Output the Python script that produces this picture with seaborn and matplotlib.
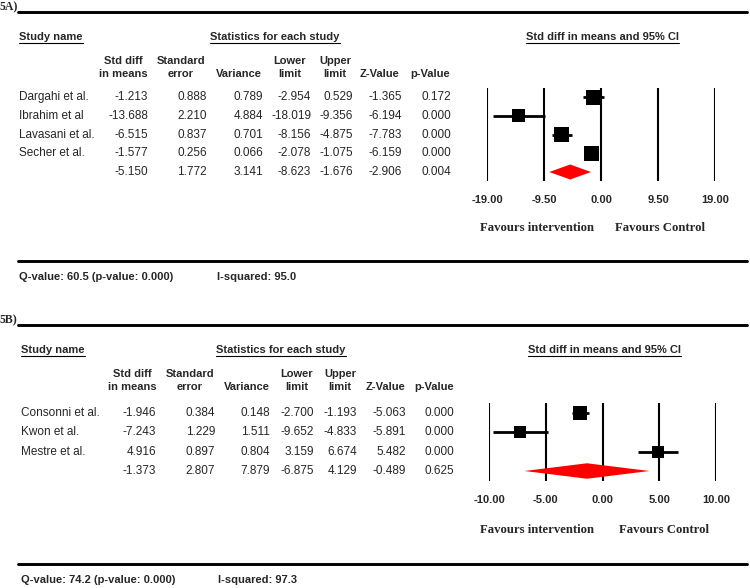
"""
Forest plots 5A / 5B : différence standardisée des moyennes et IC 95%.
"""

import pandas as pd
import matplotlib.pyplot as plt
import seaborn as sns
from matplotlib.lines import Line2D

# ---- données 5A ----
studies_a = ["Dargahi et al.", "Ibrahim et al", "Lavasani et al.", "Secher et al."]
smd_a = [-1.213, -13.688, -6.515, -1.577]
se_a = [0.888, 2.210, 0.837, 0.256]
var_a = [0.789, 4.884, 0.701, 0.066]
lower_a = [-2.954, -18.019, -8.156, -2.078]
upper_a = [0.529, -9.356, -4.875, -1.075]
z_a = [-1.365, -6.194, -7.783, -6.159]
p_a = [0.172, 0.000, 0.000, 0.000]
pooled_a = [-5.150, 1.772, 3.141, -8.623, -1.676, -2.906, 0.004]
ticks_a = [-19.0, -9.5, 0.0, 9.5, 19.0]
q_text_a = "Q-value: 60.5 (p-value: 0.000)"
i2_text_a = "I-squared: 95.0"

# ---- données 5B ----
studies_b = ["Consonni et al.", "Kwon et al.", "Mestre et al."]
smd_b = [-1.946, -7.243, 4.916]
se_b = [0.384, 1.229, 0.897]
var_b = [0.148, 1.511, 0.804]
lower_b = [-2.700, -9.652, 3.159]
upper_b = [-1.193, -4.833, 6.674]
z_b = [-5.063, -5.891, 5.482]
p_b = [0.000, 0.000, 0.000]
pooled_b = [-1.373, 2.807, 7.879, -6.875, 4.129, -0.489, 0.625]
ticks_b = [-10.0, -5.0, 0.0, 5.0, 10.0]
q_text_b = "Q-value: 74.2 (p-value: 0.000)"
i2_text_b = "I-squared: 97.3"

W, H = 750, 588
SANS = "Liberation Sans"
SERIF = "Liberation Serif"

sns.set_theme(style="white")
plt.rcParams["font.family"] = [SANS, "DejaVu Sans"]

fig = plt.figure(figsize=(W / 100, H / 100), dpi=100)
bg = fig.add_axes([0, 0, 1, 1])
bg.set_xlim(0, W)
bg.set_ylim(H, 0)
bg.axis("off")


def hline(y, x0=18, x1=747, lw=2.1):
    bg.add_line(Line2D([x0, x1], [y, y], color="black", lw=lw))


def underlined(x, y, s, ha="left"):
    t = bg.text(x, y, s, ha=ha, va="center", fontsize=8, fontweight="bold")
    fig.canvas.draw()
    bb = t.get_window_extent()
    inv = bg.transData.inverted()
    (xa, ya), (xb, _) = inv.transform([(bb.x0, bb.y0), (bb.x1, bb.y0)])
    bg.add_line(Line2D([xa, xb], [ya + 0.5, ya + 0.5], color="black", lw=0.8))


def panel(label, top, cols, hdr, rows_y, names, cols_vals, pooled,
          fx, fcenter, ticks, box_px, data, fav_x, fav_y, bottom, q_y, q_txt, i2_txt):
    bg.text(0, top - 5, label, ha="left", va="center", fontsize=8.5,
            fontweight="bold", family=SERIF)
    hline(top)
    underlined(cols["name"], top + 25, "Study name")
    underlined(cols["stats"], top + 25, "Statistics for each study", ha="center")
    underlined(fcenter, top + 25, "Std diff in means and 95% CI", ha="center")

    h1, h2 = top + 49, top + 62
    heads = [("Std diff", "in means", hdr[0]), ("Standard", "error", hdr[1]),
             ("", "Variance", hdr[2]), ("Lower", "limit", hdr[3]),
             ("Upper", "limit", hdr[4]), ("", "Z-Value", hdr[5]),
             ("", "p-Value", hdr[6])]
    for a, b, x in heads:
        if a:
            bg.text(x, h1, a, ha="center", va="center", fontsize=8, fontweight="bold")
        bg.text(x, h2, b, ha="center", va="center", fontsize=8, fontweight="bold")

    table = list(zip(*cols_vals)) + [tuple(pooled)]
    for i, y in enumerate(rows_y):
        if i < len(names):
            bg.text(cols["name"], y, names[i], ha="left", va="center", fontsize=8.5)
        for x, v in zip(cols["vals"], table[i]):
            bg.text(x, y, f"{v:.3f}", ha="right", va="center", fontsize=8.5)

    # forest plot
    x0, x1 = fx
    step = (rows_y[-1] - rows_y[0]) / (len(rows_y) - 1)
    y0, y1 = rows_y[0] - step / 2, rows_y[-1] + step / 2
    ax = fig.add_axes([x0 / W, 1 - y1 / H, (x1 - x0) / W, (y1 - y0) / H])
    n = len(data)
    ax.set_xlim(ticks[0], ticks[-1])
    ax.set_ylim(n + 0.5, -0.5)
    for t in ticks:
        ax.axvline(t, color="black", lw=1.5)
    ax.hlines(data["row"], data["lower"], data["upper"], color="black", lw=2)
    sns.scatterplot(data=data, x="smd", y="row", size="row",
                    sizes={r: (b * 0.72) ** 2 for r, b in zip(data["row"], box_px)},
                    marker="s", color="black", linewidth=0, legend=False, ax=ax, zorder=3)
    m, lo, hi = pooled[0], pooled[3], pooled[4]
    ax.fill([lo, m, hi, m], [n, n - 0.4, n, n + 0.4], color="#ff0000", lw=0, zorder=3)
    ax.set_xticks(ticks)
    ax.set_xticklabels([f"{t:.2f}" for t in ticks], fontsize=8, fontweight="bold")
    ax.tick_params(axis="x", length=0, pad=10)
    ax.set_yticks([])
    ax.set_xlabel("")
    ax.set_ylabel("")
    for sp in ax.spines.values():
        sp.set_visible(False)

    bg.text(fav_x[0], fav_y, "Favours intervention", ha="center", va="center",
            fontsize=9.2, fontweight="bold", family=SERIF)
    bg.text(fav_x[1], fav_y, "Favours Control", ha="center", va="center",
            fontsize=9.2, fontweight="bold", family=SERIF)

    hline(bottom)
    bg.text(cols["name"], q_y, q_txt, ha="left", va="center", fontsize=8, fontweight="bold")
    bg.text(cols["i2"], q_y, i2_txt, ha="left", va="center", fontsize=8, fontweight="bold")


df_a = pd.DataFrame({"study": studies_a, "smd": smd_a, "lower": lower_a,
                     "upper": upper_a, "row": range(len(studies_a))})
df_b = pd.DataFrame({"study": studies_b, "smd": smd_b, "lower": lower_b,
                     "upper": upper_b, "row": range(len(studies_b))})

panel("5A)", 12,
      {"name": 19, "stats": 275, "i2": 217,
       "vals": [148, 207, 263, 311, 353, 402, 451]},
      [123, 181, 239, 290, 335, 380, 430],
      [97, 116, 135, 153, 172], studies_a,
      [smd_a, se_a, var_a, lower_a, upper_a, z_a, p_a], pooled_a,
      (487, 715), 602, ticks_a, [15, 13, 15, 15], df_a,
      (537, 660), 228, 261, 277, q_text_a, i2_text_a)

panel("5B)", 325,
      {"name": 21, "stats": 281, "i2": 218,
       "vals": [156, 215, 270, 314, 357, 406, 454]},
      [132, 190, 247, 297, 340, 386, 434],
      [413, 432, 452, 471], studies_b,
      [smd_b, se_b, var_b, lower_b, upper_b, z_b, p_b], pooled_b,
      (489, 716), 604, ticks_b, [14, 12, 12], df_b,
      (537, 664), 530, 564, 580, q_text_b, i2_text_b)

fig.savefig("out.png", dpi=100)
